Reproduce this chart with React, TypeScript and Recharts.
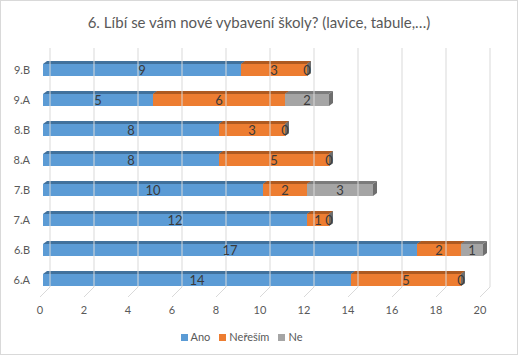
import React from 'react';
import { BarChart, Bar, XAxis, YAxis, LabelList, Legend } from 'recharts';

const classes = ['9.B', '9.A', '8.B', '8.A', '7.B', '7.A', '6.B', '6.A'];
const ano = [9, 5, 8, 8, 10, 12, 17, 14];
const neresim = [3, 6, 3, 5, 2, 1, 2, 5];
const ne = [0, 2, 0, 0, 3, 0, 1, 0];
const xTicks = [0, 2, 4, 6, 8, 10, 12, 14, 16, 18, 20];
const title = '6. Líbí se vám nové vybavení školy? (lavice, tabule,…)';

const series = [
  { key: 'Ano', values: ano, color: '#5B9BD5', dark: '#41719C', side: '#3E6A93' },
  { key: 'Neřeším', values: neresim, color: '#ED7D31', dark: '#AE5A21', side: '#A3541F' },
  { key: 'Ne', values: ne, color: '#A5A5A5', dark: '#7C7C7C', side: '#6E6E6E' },
];

const data = classes.map((c, i) => ({
  cls: c,
  Ano: ano[i],
  'Neřeším': neresim[i],
  Ne: ne[i],
}));

const FONT = 'Lato, "Open Sans", sans-serif';
const TEXT = '#595959';
const W = 518;
const H = 355;
const PLOT_TOP = 55;
const DX = 4;
const DY = 3;

const makeShape = (color: string, dark: string, side: string) => (props: any) => {
  const { x, y, width, height } = props;
  if (x == null || y == null) return null;
  const w = Math.max(0, width || 0);
  const h = height || 0;
  return (
    <g>
      {w > 0 && <rect x={x} y={y} width={w} height={h} fill={color} />}
      {w > 0 && (
        <polygon
          points={`${x},${y} ${x + DX},${y - DY} ${x + w + DX},${y - DY} ${x + w},${y}`}
          fill={dark}
        />
      )}
      <polygon
        points={`${x + w},${y} ${x + w + DX},${y - DY} ${x + w + DX},${y + h - DY} ${x + w},${y + h}`}
        fill={side}
      />
    </g>
  );
};

const XTick = (props: any) => {
  const { x, y, payload } = props;
  const backX = x + 7;
  const frontX = x - 3;
  return (
    <g>
      <polyline
        points={`${backX},${PLOT_TOP - 7} ${backX},${y - 8} ${frontX},${y + 2}`}
        fill="none"
        stroke="#D9D9D9"
        strokeWidth={1}
      />
      <text
        x={frontX}
        y={y + 19}
        textAnchor="middle"
        fill={TEXT}
        fontSize={11}
        fontFamily={FONT}
      >
        {payload.value}
      </text>
    </g>
  );
};

const LegendContent = () => (
  <div
    style={{
      height: 18,
      lineHeight: '18px',
      display: 'flex',
      justifyContent: 'center',
      gap: 9,
      fontFamily: FONT,
      fontSize: 11,
      color: TEXT,
    }}
  >
    {series.map((s) => (
      <span key={s.key} style={{ display: 'inline-flex', alignItems: 'center' }}>
        <span
          style={{
            display: 'inline-block',
            width: 7,
            height: 7,
            background: s.color,
            marginRight: 3,
          }}
        />
        {s.key}
      </span>
    ))}
  </div>
);

export default function App() {
  return (
    <div style={{ position: 'absolute', left: 0, top: 0, width: W, height: H, background: '#fff' }}>
      <div
        style={{
          position: 'absolute',
          left: 0,
          top: 12,
          width: W,
          textAlign: 'center',
          fontFamily: FONT,
          fontSize: 15,
          color: TEXT,
          lineHeight: '20px',
        }}
      >
        {title}
      </div>
      <div style={{ position: 'absolute', left: 0, top: 0 }}>
        <BarChart
          width={W}
          height={H}
          data={data}
          layout="vertical"
          margin={{ top: PLOT_TOP, right: 35, bottom: 9, left: 0 }}
          barSize={12}
        >
          <XAxis
            type="number"
            domain={[0, 20]}
            ticks={xTicks}
            interval={0}
            axisLine={false}
            tickLine={false}
            tickSize={0}
            tickMargin={0}
            height={33}
            tick={<XTick />}
          />
          <YAxis
            type="category"
            dataKey="cls"
            width={43}
            axisLine={false}
            tickLine={false}
            tickSize={0}
            tickMargin={13}
            tick={{ fill: TEXT, fontSize: 11, fontFamily: FONT }}
          />
          <Legend verticalAlign="bottom" content={<LegendContent />} />
          {series.map((s) => (
            <Bar
              key={s.key}
              dataKey={s.key}
              stackId="a"
              fill={s.color}
              isAnimationActive={false}
              shape={makeShape(s.color, s.dark, s.side)}
            >
              <LabelList
                dataKey={s.key}
                position="center"
                fill="#3A3A3A"
                fontSize={13}
                fontFamily={FONT}
              />
            </Bar>
          ))}
        </BarChart>
      </div>
      <div
        style={{
          position: 'absolute',
          left: 0,
          top: 0,
          width: W,
          height: H,
          boxSizing: 'border-box',
          border: '1px solid #D9D9D9',
          pointerEvents: 'none',
        }}
      />
    </div>
  );
}
